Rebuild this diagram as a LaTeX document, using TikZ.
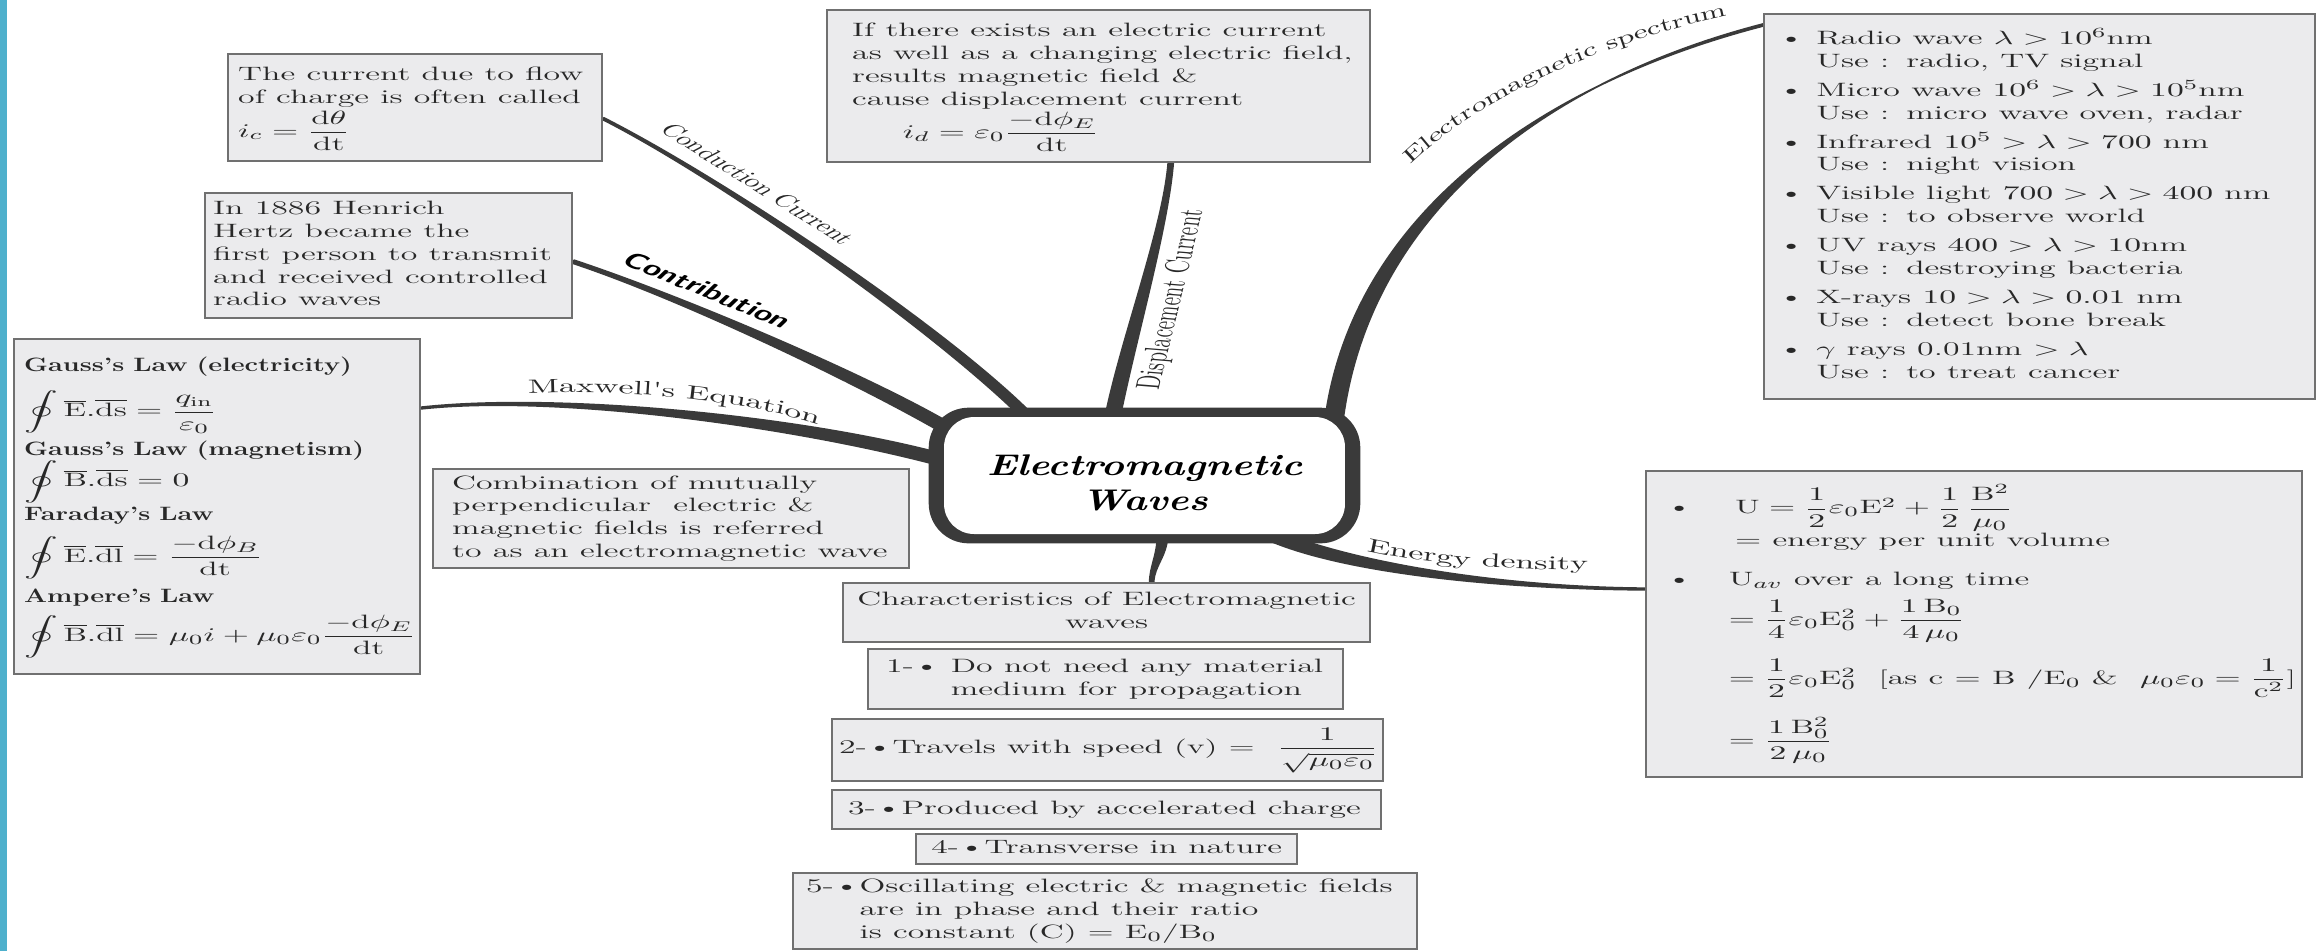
\documentclass[tikz,border=0pt]{standalone}
\usepackage{fontspec}
\usepackage{amsmath,graphicx}
\usetikzlibrary{calc,backgrounds,decorations.text}

\newfontfamily\lblwide{lmroman10-regular.otf}[FakeStretch=1.75]
\newfontfamily\lblmid{lmroman10-regular.otf}[FakeStretch=1.6]

\definecolor{barblue}{RGB}{78,176,204}
\definecolor{boxfill}{RGB}{235,235,237}
\definecolor{boxline}{RGB}{112,112,112}
\definecolor{inkgray}{RGB}{40,40,40}
\definecolor{branchgray}{RGB}{58,58,58}

\newcommand{\boxstretch}{1.75}
\newcommand{\wtext}[2][l]{\noindent\scalebox{\boxstretch}[1]{\begin{tabular}{@{}#1@{}}#2\end{tabular}}}
\newcommand{\lawhead}[1]{\scalebox{0.8}[1]{\bfseries #1}}
% tapered branch: tip, control near tip, control near root, root, tip offset, root offset
\newcommand{\drawbranch}[6]{%
  \fill[branch] ($(#1)+(#5)$) .. controls ($(#2)+(#5)$) and ($(#3)+(#6)$) .. ($(#4)+(#6)$)
    -- ($(#4)-(#6)$) .. controls ($(#3)-(#6)$) and ($(#2)-(#5)$) .. ($(#1)-(#5)$) -- cycle;}

\tikzset{
  infobox/.style={draw=boxline, line width=1.4pt, fill=boxfill, text=inkgray,
    inner xsep=0pt, inner ysep=0pt, anchor=north west, font=\fontsize{11}{13}\selectfont},
  hub/.style={fill=white, rounded corners=0.6cm,
    text=black, font=\fontsize{17}{20}\selectfont\bfseries\itshape},
  hubframe/.style={fill=branchgray, rounded corners=0.8cm},
  branch/.style={fill=branchgray, draw=branchgray, line width=1pt, line join=round},
  tag/.style={text=inkgray, inner sep=0pt, font=\fontsize{10}{12}\selectfont},
}

\begin{document}
\begin{tikzpicture}[x=0.02cm, y=-0.02cm]
  \useasboundingbox (0,0) rectangle (2321,951);
  % hub
  \node[hub, minimum width=8.02cm, minimum height=2.34cm] (cen) at (1144.5,475.5)
    {\scalebox{1.32}[1]{\begin{tabular}{@{}c@{}}\\[-8pt] Electromagnetic\\ Waves\end{tabular}}};
  % left boxes
  \node[infobox, minimum width=7.48cm, minimum height=2.14cm, text width=7.08cm, align=left] (cond) at (227,53)
    {\wtext{The current due to flow\\ of charge is often called\\ $i_c = \dfrac{\mathrm{d}\theta}{\mathrm{dt}}$}};
  \node[infobox, minimum width=7.34cm, minimum height=2.5cm, text width=7.02cm, align=left] (contr) at (204,192)
    {\wtext{In 1886 Henrich\\ Hertz became the\\ first person to transmit\\ and received controlled\\ radio waves}};
  \node[infobox, minimum width=8.12cm, minimum height=6.7cm, text width=7.72cm, align=left] (maxw) at (13,338)
    {\wtext{\lawhead{Gauss's Law (electricity)}\\[7pt]
      $\displaystyle\oint \overline{\mathrm{E}}.\overline{\mathrm{ds}} = \frac{q_{\mathrm{in}}}{\varepsilon_0}$\\[9pt]
      \lawhead{Gauss's Law (magnetism)}\\[-1pt]
      $\displaystyle\oint \overline{\mathrm{B}}.\overline{\mathrm{ds}} = 0$\\[6pt]
      \lawhead{Faraday's Law}\\[5pt]
      $\displaystyle\oint \overline{\mathrm{E}}.\overline{\mathrm{dl}} = \frac{-\mathrm{d}\phi_B}{\mathrm{dt}}$\\[10pt]
      \lawhead{Ampere's Law}\\[3pt]
      $\displaystyle\oint \overline{\mathrm{B}}.\overline{\mathrm{dl}} = \mu_0 i + \mu_0\varepsilon_0\frac{-\mathrm{d}\phi_E}{\mathrm{dt}}$}};
  \node[infobox, minimum width=9.52cm, minimum height=1.98cm, text width=8.76cm, align=left] (comb) at (432,468)
    {\wtext{Combination of mutually\\ perpendicular\ \ electric \&\\ magnetic fields is referred\\ to as an electromagnetic wave}};
  % top box
  \node[infobox, minimum width=10.86cm, minimum height=3.04cm, text width=9.86cm, align=left] (disp) at (826,9)
    {\wtext{If there exists an electric current\\ as well as a changing electric field,\\ results magnetic field \&\\ cause displacement current\\
      \hspace{1.5em}$i_d = \varepsilon_0\dfrac{-\mathrm{d}\phi_E}{\mathrm{dt}}$}};
  % right boxes
  \node[infobox, minimum width=11.02cm, minimum height=7.7cm, text width=10.46cm, align=left] (spec) at (1763,13)
    {\wtext[l@{\hspace{4pt}}l]{\textbullet & Radio wave $\lambda > 10^6$nm\\ & Use : radio, TV signal\\[3.5pt]
      \textbullet & Micro wave $10^6 > \lambda > 10^5$nm\\ & Use : micro wave oven, radar\\[3.5pt]
      \textbullet & Infrared $10^5 > \lambda > 700$ nm\\ & Use : night vision\\[3.5pt]
      \textbullet & Visible light $700 > \lambda > 400$ nm\\ & Use : to observe world\\[3.5pt]
      \textbullet & UV rays $400 > \lambda > 10$nm\\ & Use : destroying bacteria\\[3.5pt]
      \textbullet & X-rays $10 > \lambda >0.01$ nm\\ & Use : detect bone break\\[3.5pt]
      \textbullet & $\gamma$ rays 0.01nm $> \lambda$\\ & Use : to treat cancer}};
  \node[infobox, minimum width=13.12cm, minimum height=6.12cm, text width=12.32cm, align=left] (energy) at (1645,470)
    {\wtext[l@{\hspace{12pt}}l]{\textbullet & \hspace{2pt}$\mathrm{U} = \dfrac{1}{2}\varepsilon_0\mathrm{E}^2 + \dfrac{1}{2}\,\dfrac{\mathrm{B}^2}{\mu_0}$\\[1pt]
      & \hspace{2pt}$=$ energy per unit volume\\[9pt]
      \textbullet & U$_{av}$ over a long time\\[4pt]
      & $= \dfrac{1}{4}\varepsilon_0\mathrm{E}_0^2 + \dfrac{1\,\mathrm{B}_0}{4\,\mu_0}$\\[15pt]
      & $= \dfrac{1}{2}\varepsilon_0\mathrm{E}_0^2$\ \ [as c $=$ B /E$_0$ \&\ \ $\mu_0\varepsilon_0 = \dfrac{1}{\mathrm{c}^2}$]\\[15pt]
      & $= \dfrac{1\,\mathrm{B}_0^2}{2\,\mu_0}$}};
  % bottom boxes
  \node[infobox, minimum width=10.54cm, minimum height=1.18cm] (char) at (842,582)
    {\wtext[c]{Characteristics of Electromagnetic\\ waves}};
  \node[infobox, minimum width=9.5cm, minimum height=1.2cm, text width=8.78cm, align=left] (feat1) at (867,648)
    {\wtext[l@{}l]{1-\textbullet\ \ & Do not need any material\\ & medium for propagation}};
  \node[infobox, minimum width=11.02cm, minimum height=1.24cm, text width=10.74cm, align=left] (feat2) at (831,718)
    {\wtext{2-\textbullet Travels with speed (v) = \ $\dfrac{1}{\sqrt{\mu_0\varepsilon_0}}$}};
  \node[infobox, minimum width=10.98cm, minimum height=0.78cm, text width=10.34cm, align=left] (feat3) at (831,789)
    {\wtext{3-\textbullet Produced by accelerated charge}};
  \node[infobox, minimum width=7.62cm, minimum height=0.6cm] (feat4) at (915,833)
    {\wtext{4-\textbullet Transverse in nature}};
  \node[infobox, minimum width=12.48cm, minimum height=1.52cm, text width=11.96cm, align=left] (feat5) at (792,872)
    {\wtext[l@{}l]{5-\textbullet\ & Oscillating electric \& magnetic fields\\ & are in phase and their ratio\\ & is constant (C) = E$_0$/B$_0$}};
  % branch ends
  \coordinate (condtip) at ($(cond.east)+(0,11)$);
  \coordinate (condroot) at ($(cen.center)+(-118,-60)$);
  \coordinate (contrtip) at ($(contr.east)+(0,6)$);
  \coordinate (contrroot) at ($(cen.center)+(-199,-48)$);
  \coordinate (maxwtip) at ($(maxw.north east)+(0,70)$);
  \coordinate (maxwroot) at ($(cen.center)+(-204,-16)$);
  \coordinate (disptip) at ($(disp.south)+(72,0)$);
  \coordinate (disproot) at ($(cen.center)+(-32,-58)$);
  \coordinate (spectip) at ($(spec.north west)+(0,12)$);
  \coordinate (specroot) at ($(cen.center)+(189,-52)$);
  \coordinate (energytip) at ($(energy.north west)+(0,119)$);
  \coordinate (energyroot) at ($(cen.center)+(128,60)$);
  \coordinate (chartip) at ($(char.north)+(45,0)$);
  \coordinate (charroot) at ($(cen.center)+(18,60)$);
  % branches and hub frame
  \begin{scope}[on background layer]
    \fill[white] (0,0) rectangle (2321,951);
    \fill[barblue] (0,0) rectangle (7,951);
    \drawbranch{condtip}{720,178}{935,325}{condroot}{0.45,-0.9}{3.5,-3.5}
    \drawbranch{contrtip}{680,297}{860,378}{contrroot}{0.6,-1.5}{3.2,-5.1}
    \drawbranch{maxwtip}{560,393}{800,422}{maxwroot}{0,-0.8}{1.6,-5.8}
    \drawbranch{disptip}{1165,230}{1128,340}{disproot}{2.5,0}{7.5,0}
    \drawbranch{spectip}{1550,80}{1360,210}{specroot}{0,-1}{9,0}
    \drawbranch{energytip}{1500,588}{1350,568}{energyroot}{0,-0.8}{2.3,-5.5}
    \drawbranch{chartip}{1152,566}{1162,556}{charroot}{2,0}{5,0}
    \fill[hubframe] ($(cen.north west)+(-15,-9)$) rectangle ($(cen.south east)+(15,9)$);
  \end{scope}
  % branch labels
  \node[tag, xscale=1.75, rotate=-47.5] (condlbl) at (758,184) {Conduction Current};
  \node[tag, font=\fontsize{12}{14}\selectfont\sffamily\bfseries, text=black, xscale=1.6, rotate=-33] (contrlbl) at (708,290) {Contribution};
  \node[tag, font=\fontsize{11}{13}\selectfont, xscale=1.75, rotate=82] (displbl) at (1172,300) {Displacement Current};
  \path[decorate, decoration={text along path, text align=center,
    text={|\lblwide\fontsize{11}{13}\selectfont\color{inkgray}|Maxwell's Equation}}]
    (505,395) .. controls (600,388) and (740,395) .. (840,432);
  \path[decorate, decoration={text along path, text align=center,
    text={|\lblwide\fontsize{11}{13}\selectfont\color{inkgray}|Energy density}}]
    (1350,547) .. controls (1420,565) and (1500,570) .. (1605,570);
  \path[decorate, decoration={text along path, text align=center,
    text={|\lblmid\fontsize{11}{13}\selectfont\color{inkgray}|Electromagnetic spectrum}}]
    (1398,178) .. controls (1455,112) and (1590,42) .. (1745,12);
\end{tikzpicture}
\end{document}
